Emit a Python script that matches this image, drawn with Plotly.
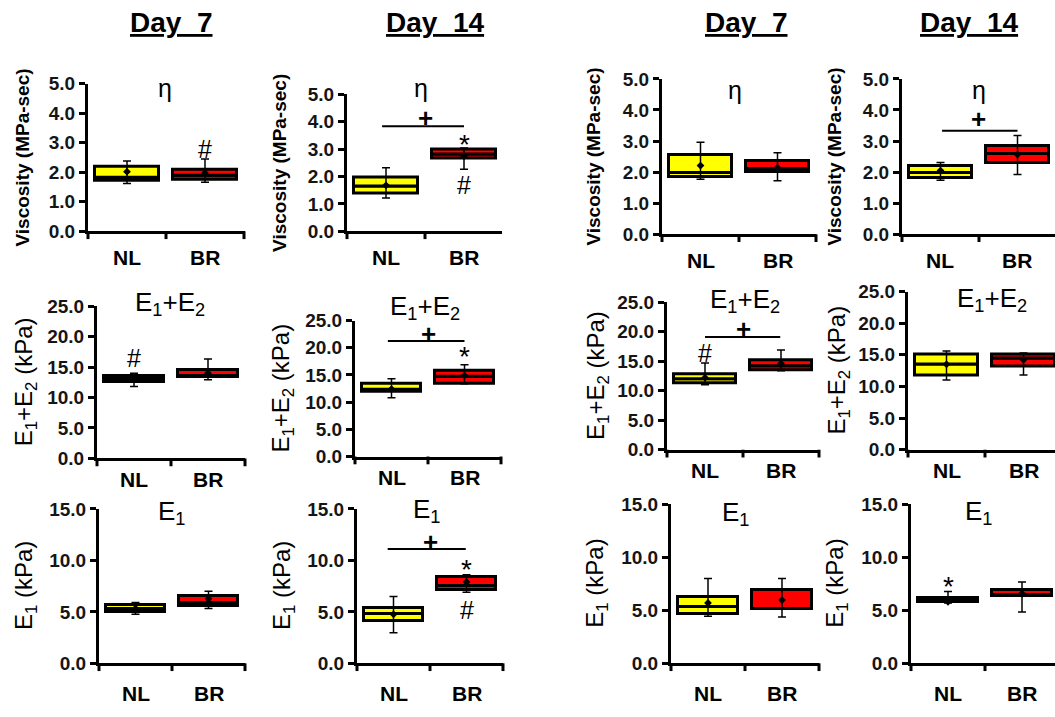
import plotly.graph_objects as go

W, H = 1055, 717
FONT = "Liberation Sans"

groups = ["NL", "BR"]
fills = ["#FFFF00", "#FF0000"]

# Panels are listed row by row: Viscosity, E1+E2, E1; columns Day 7 | Day 14 | Day 7 | Day 14
panel_titles = ["η"] * 4 + ["E<sub>1</sub>+E<sub>2</sub>"] * 4 + ["E<sub>1</sub>"] * 4
y_titles = (["<b>Viscosity (MPa-sec)</b>"] * 4
            + ["E<sub>1</sub>+E<sub>2</sub> (kPa)"] * 4
            + ["E<sub>1</sub> (kPa)"] * 4)
y_max = [5.0] * 4 + [25.0] * 4 + [15.0] * 4
y_step = [1.0] * 4 + [5.0] * 4 + [5.0] * 4
day_headers = ["Day\u00a0\u00a07", "Day\u00a0\u00a014", "Day\u00a0\u00a07", "Day\u00a0\u00a014"]

# Box statistics per panel as [NL, BR]
q1 = [
    [1.72, 1.76], [1.38, 2.66], [1.86, 2.02], [1.82, 2.31],
    [12.5, 13.3], [11.9, 13.4], [11.3, 13.4], [11.7, 13.1],
    [5.02, 5.58], [4.14, 7.15], [4.65, 5.07], [5.80, 6.30],
]
median = [
    [1.80, 1.87], [1.65, 2.80], [1.98, 2.10], [1.96, 2.57],
    [13.0, 13.6], [12.3, 14.7], [11.9, 14.2], [13.5, 14.4],
    [5.30, 5.90], [4.76, 7.52], [5.30, 5.15], [5.95, 6.45],
]
q3 = [
    [2.20, 2.10], [1.95, 3.00], [2.55, 2.36], [2.19, 2.85],
    [13.6, 14.5], [13.4, 15.8], [12.8, 15.2], [15.05, 15.05],
    [5.64, 6.50], [5.39, 8.40], [6.20, 6.90], [6.10, 6.90],
]
whisker_lo = [
    [1.62, 1.66], [1.22, 2.27], [1.77, 1.72], [1.74, 1.92],
    [11.8, 12.9], [10.8, 13.4], [11.0, 13.4], [11.0, 11.8],
    [4.76, 5.33], [2.98, 6.90], [4.43, 4.37], [5.69, 4.83],
]
whisker_hi = [
    [2.38, 2.45], [2.32, 3.04], [2.96, 2.62], [2.31, 3.18],
    [14.0, 16.3], [14.3, 16.9], [14.7, 16.9], [15.6, 15.3],
    [5.90, 7.00], [6.49, 8.60], [8.00, 8.00], [6.76, 7.65],
]
mean = [
    [2.02, 1.98], [1.68, 2.74], [2.21, 2.14], [2.05, 2.57],
    [13.0, 14.0], [12.4, 14.9], [12.2, 14.6], [13.5, 14.2],
    [5.33, 6.27], [4.76, 7.90], [5.69, 5.96], [5.80, 6.57],
]

# Significance symbols: (panel, x, y, text) and comparison bars: (panel, x0, x1, y)
sig_marks = [
    (0, 1, 2.80, "#"),
    (1, 0.5, 4.14, "+"), (1, 1, 3.43, "*"), (1, 1, 1.69, "#"),
    (3, 0.5, 3.70, "+"),
    (4, 0, 16.5, "#"),
    (5, 0.5, 22.6, "+"), (5, 1, 19.6, "*"),
    (6, 0, 16.4, "#"), (6, 0.5, 20.5, "+"),
    (9, 0.5, 11.8, "+"), (9, 1, 9.78, "*"), (9, 1, 5.17, "#"),
    (11, 0, 7.90, "*"),
]
brackets = [
    (1, -0.05, 1.0, 3.84), (3, 0.02, 1.0, 3.33),
    (5, -0.05, 1.0, 21.25), (6, 0.0, 0.99, 19.1),
    (9, -0.08, 0.99, 11.1),
]

# Axis frames in pixels: left edge, right edge, centre tick, top (max value), bottom (zero)
ax_left = [88, 347, 662, 902, 97, 355, 667, 908, 99, 357, 671, 911]
ax_right = [245, 502, 816, 1055, 245, 502, 819, 1055, 245, 503, 819, 1055]
ax_mid = [166, 425, 739, 979, 171, 428, 743, 985, 172, 430, 745, 985]
ax_top = [76, 87, 71, 71, 305, 320, 301, 290, 514, 514, 509, 509]
ax_bottom = [228, 228, 231, 231, 462, 460, 453, 453, 673, 673, 673, 673]
label_drop = [26] * 4 + [21] * 4 + [30] * 4
ytitle_gap = [65, 67, 68, 67, 72, 72, 69, 69, 74, 74, 74, 74]
title_px = [(165, 80), (421, 80), (735, 82), (979, 82),
            (170, 302), (425, 306), (745, 299), (992, 298),
            (171, 518), (426, 516), (735, 519), (978, 518)]
header_px = [(171, 13), (435, 13), (746, 13), (969, 13)]
TICK_LEN = 8


def px(x):
    return x / W


def py(y):
    return 1 - y / H


fig = go.Figure()
layout = {}
annotations = []
shapes = []

for i in range(12):
    n = i + 1
    xid = "x" if n == 1 else f"x{n}"
    yid = "y" if n == 1 else f"y{n}"
    seg_lo = [m - a for m, a in zip(median[i], q1[i])]
    seg_hi = [b - m for b, m in zip(q3[i], median[i])]
    for base, length in ((q1[i], seg_lo), (median[i], seg_hi)):
        fig.add_trace(go.Bar(
            x=[0, 1], y=length, base=base, width=0.82,
            marker=dict(color=fills, line=dict(color="black", width=3)),
            xaxis=xid, yaxis=yid, showlegend=False, hoverinfo="skip",
        ))
    fig.add_trace(go.Scatter(
        x=[0, 1], y=mean[i], mode="markers",
        marker=dict(symbol="diamond", size=6, color="black"),
        error_y=dict(type="data", symmetric=False,
                     array=[h - m for h, m in zip(whisker_hi[i], mean[i])],
                     arrayminus=[m - l for m, l in zip(mean[i], whisker_lo[i])],
                     color="black", thickness=1.5, width=4),
        xaxis=xid, yaxis=yid, showlegend=False, hoverinfo="skip",
    ))

    unit = ax_mid[i] - ax_left[i]
    x_end = -0.5 + (ax_right[i] - ax_left[i]) / unit
    layout["xaxis" if n == 1 else f"xaxis{n}"] = dict(
        domain=[px(ax_left[i]), px(ax_right[i])],
        range=[-0.5, x_end],
        anchor=yid, showline=True, linewidth=3, linecolor="black",
        showgrid=False, zeroline=False, fixedrange=True,
        showticklabels=False, ticks="",
    )
    layout["yaxis" if n == 1 else f"yaxis{n}"] = dict(
        domain=[py(ax_bottom[i]), py(ax_top[i])],
        range=[0, y_max[i]], anchor=xid,
        showline=True, linewidth=3, linecolor="black",
        showgrid=False, zeroline=False, fixedrange=True,
        tickmode="linear", tick0=0, dtick=y_step[i], tickformat=".1f",
        ticks="outside", ticklen=6, tickwidth=3, tickcolor="black",
        tickfont=dict(family=FONT, size=19, color="#151515", weight="bold"),
    )

    # category separator ticks below the x axis (outer edges and between groups)
    for v in (-0.5, 0.5, 1.5):
        if v <= x_end + 1e-6:
            xp = ax_left[i] + (v + 0.5) * unit
            shapes.append(dict(
                type="line", xref="paper", yref="paper",
                x0=px(xp), x1=px(xp),
                y0=py(ax_bottom[i]), y1=py(ax_bottom[i] + TICK_LEN),
                line=dict(color="black", width=3),
            ))

    # group labels under each box
    for k, g in enumerate(groups):
        annotations.append(dict(
            text=f"<b>{g}</b>", showarrow=False,
            xref=xid, yref=f"{yid} domain", x=k, y=0, yshift=-label_drop[i],
            xanchor="center", yanchor="middle",
            font=dict(family=FONT, size=21, color="black"),
        ))

    annotations.append(dict(
        text=y_titles[i], textangle=-90, showarrow=False,
        xref="paper", yref="paper",
        x=px(ax_left[i] - ytitle_gap[i]), y=py((ax_top[i] + ax_bottom[i]) / 2),
        xanchor="center", yanchor="middle",
        font=dict(family=FONT, size=19 if i < 4 else 24, color="black"),
    ))
    tx, ty = title_px[i]
    annotations.append(dict(
        text=panel_titles[i], showarrow=False, xref="paper", yref="paper",
        x=px(tx), y=py(ty), xanchor="center", yanchor="middle",
        font=dict(family=FONT, size=25 if i < 4 else 26, color="black"),
    ))

for (hx, hy), txt in zip(header_px, day_headers):
    annotations.append(dict(
        text=f"<b><u>{txt}</u></b>", showarrow=False, xref="paper", yref="paper",
        x=px(hx), y=py(hy), xanchor="center", yanchor="middle",
        font=dict(family=FONT, size=28, color="black"),
    ))

sym_style = {
    "#": dict(size=25, weight="normal", shift=0),
    "*": dict(size=28, weight="normal", shift=-7),
    "+": dict(size=26, weight="bold", shift=0),
}
for i, x, y, txt in sig_marks:
    n = i + 1
    st = sym_style[txt]
    annotations.append(dict(
        text=txt, showarrow=False,
        xref="x" if n == 1 else f"x{n}", yref="y" if n == 1 else f"y{n}",
        x=x, y=y, xanchor="center", yanchor="middle", yshift=st["shift"],
        font=dict(family=FONT, size=st["size"], color="black", weight=st["weight"]),
    ))

for i, x0, x1, y in brackets:
    n = i + 1
    shapes.append(dict(
        type="line", xref="x" if n == 1 else f"x{n}", yref="y" if n == 1 else f"y{n}",
        x0=x0, x1=x1, y0=y, y1=y, line=dict(color="black", width=2),
    ))

fig.update_layout(
    width=W, height=H, margin=dict(l=0, r=0, t=0, b=0),
    paper_bgcolor="white", plot_bgcolor="rgba(0,0,0,0)",
    barmode="overlay", bargap=0,
    font=dict(family=FONT, color="black"),
    annotations=annotations, shapes=shapes,
    **layout,
)

fig.write_html("out.html")
